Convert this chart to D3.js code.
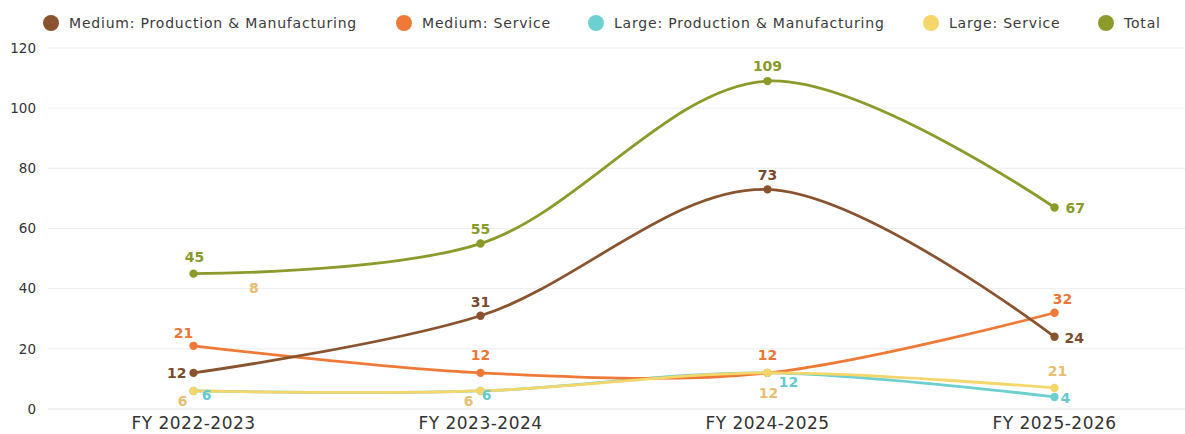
<!DOCTYPE html>
<html>
<head>
<meta charset="utf-8">
<script src="https://cdn.jsdelivr.net/npm/d3@7"></script>
<style>
  html, body { margin: 0; padding: 0; background: #fff; }
  svg { display: block; font-family: "DejaVu Sans", sans-serif; }
</style>
</head>
<body>
<svg id="chart" width="1185" height="434"></svg>
<script>
// Fiscal years on the x axis
const years = ["FY 2022-2023", "FY 2023-2024", "FY 2024-2025", "FY 2025-2026"];

// Series values per fiscal year
const mediumProduction = [12, 31, 73, 24];
const mediumService = [21, 12, 12, 32];
const largeProduction = [6, 6, 12, 4];
const largeService = [6, 6, 12, 7];
const total = [45, 55, 109, 67];

// Text shown next to each point
const mediumProductionLabels = ["12", "31", "73", "24"];
const mediumServiceLabels = ["21", "12", "12", "32"];
const largeProductionLabels = ["6", "6", "12", "4"];
const largeServiceLabels = ["6", "6", "12", "21"];
const totalLabels = ["45", "55", "109", "67"];

// Loose annotation between the first two years
const extraNote = { text: "8", year: 0.21, value: 38.5 };

const yTicks = [0, 20, 40, 60, 80, 100, 120];

const series = [
  { name: "Medium: Production & Manufacturing", values: mediumProduction, labels: mediumProductionLabels,
    color: "#8a5330", labelColor: "#7a4a2c" },
  { name: "Medium: Service", values: mediumService, labels: mediumServiceLabels,
    color: "#ef7a38", labelColor: "#ea7638" },
  { name: "Large: Production & Manufacturing", values: largeProduction, labels: largeProductionLabels,
    color: "#6ccfd0", labelColor: "#66c8cc" },
  { name: "Large: Service", values: largeService, labels: largeServiceLabels,
    color: "#f4d66a", labelColor: "#e9bd72" },
  { name: "Total", values: total, labels: totalLabels,
    color: "#8c9a2c", labelColor: "#889a2a" }
];

// Label placement per series and point: [dx, dy, anchor]
const labelPlacement = [
  [[-7, 5, "end"], [0, -9, "middle"], [0, -9, "middle"], [10, 6, "start"]],
  [[-10, -8, "middle"], [0, -13, "middle"], [0, -13, "middle"], [8, -9, "middle"]],
  [[13, 9, "middle"], [6, 9, "middle"], [21, 14, "middle"], [6, 6, "start"]],
  [[-11, 15, "middle"], [-12, 15, "middle"], [1, 25, "middle"], [3, -12, "middle"]],
  [[1, -12, "middle"], [0, -10, "middle"], [0, -10, "middle"], [11, 6, "start"]]
];

const svg = d3.select("#chart");
const plotLeft = 48, plotRight = 1185;

const x = d3.scaleBand().domain(years).range([50, 1198]).paddingInner(0).paddingOuter(0);
const xc = d => x(d) + x.bandwidth() / 2;
const y = d3.scaleLinear().domain([0, 120]).range([409, 48]);

// Grid lines
svg.append("g").selectAll("line").data(yTicks).join("line")
  .attr("x1", plotLeft).attr("x2", plotRight)
  .attr("y1", d => y(d)).attr("y2", d => y(d))
  .attr("stroke", d => d === 0 ? "#e3e3e3" : "#efefef").attr("stroke-width", 1.2);

// Y axis
const yAxis = svg.append("g").attr("transform", "translate(36,0)")
  .call(d3.axisLeft(y).tickValues(yTicks).tickSize(0).tickPadding(0));
yAxis.select(".domain").remove();
yAxis.selectAll("text").attr("font-size", 13.5).attr("fill", "#333")
  .attr("font-family", "DejaVu Sans, sans-serif");

// X axis
const xAxis = svg.append("g").attr("transform", "translate(0,429)")
  .call(d3.axisBottom(x).tickSize(0).tickPadding(0));
xAxis.select(".domain").remove();
xAxis.selectAll("text").attr("dy", 0).attr("font-size", 17).attr("fill", "#333")
  .attr("font-family", "DejaVu Sans, sans-serif").attr("letter-spacing", 0.5);

const line = d3.line()
  .x((d, i) => xc(years[i]))
  .y(d => y(d))
  .curve(d3.curveCatmullRom.alpha(0.5));

// Lines, with the small series underneath
const drawOrder = [2, 1, 3, 0, 4];
drawOrder.forEach(si => {
  const s = series[si];
  svg.append("path").datum(s.values)
    .attr("d", line).attr("fill", "none")
    .attr("stroke", s.color).attr("stroke-width", 2.8)
    .attr("stroke-linecap", "round");
  svg.append("g").selectAll("circle").data(s.values).join("circle")
    .attr("cx", (d, i) => xc(years[i])).attr("cy", d => y(d))
    .attr("r", 4.2).attr("fill", s.color);
});

// Value labels
series.forEach((s, si) => {
  svg.append("g").selectAll("text").data(s.values).join("text")
    .attr("x", (d, i) => xc(years[i]) + labelPlacement[si][i][0])
    .attr("y", (d, i) => y(d) + labelPlacement[si][i][1])
    .attr("text-anchor", (d, i) => labelPlacement[si][i][2])
    .attr("font-size", 14).attr("font-weight", 700)
    .attr("fill", s.labelColor)
    .text((d, i) => s.labels[i]);
});

// Annotation
svg.append("text")
  .attr("x", xc(years[0]) + extraNote.year * x.bandwidth())
  .attr("y", y(extraNote.value))
  .attr("text-anchor", "middle").attr("font-size", 14).attr("font-weight", 700)
  .attr("fill", series[3].labelColor).text(extraNote.text);

// Legend
const legendX = [51, 404, 596, 931, 1106];
const legend = svg.append("g");
series.forEach((s, i) => {
  const g = legend.append("g").attr("transform", `translate(${legendX[i]},23)`);
  g.append("circle").attr("r", 8).attr("fill", s.color);
  g.append("text").attr("x", 18).attr("y", 5)
    .attr("font-size", 14).attr("fill", "#3a3a3a").attr("letter-spacing", 0.8).text(s.name);
});
</script>
</body>
</html>
